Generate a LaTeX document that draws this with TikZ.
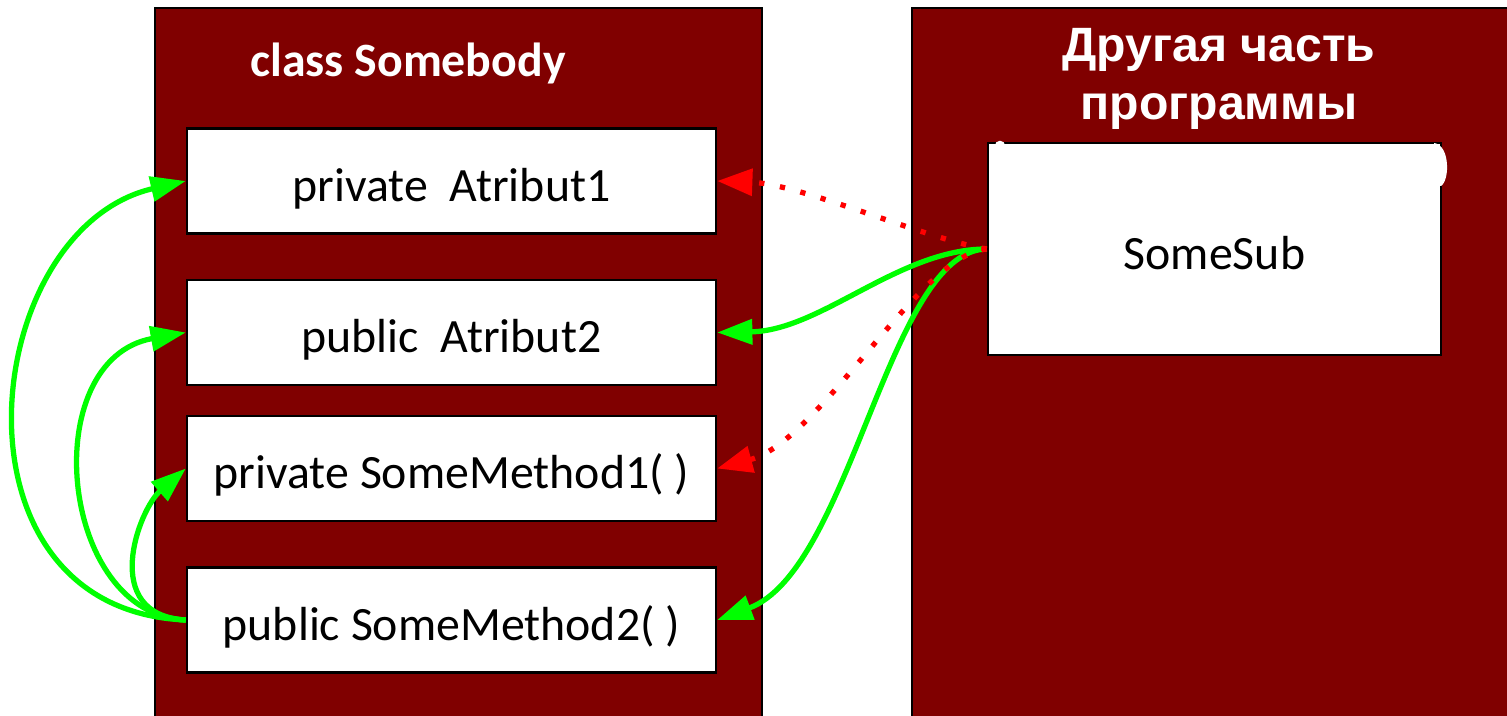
\documentclass[tikz,border=0pt]{standalone}
\usepackage{fontspec}
\setmainfont{Carlito}
\newfontfamily\arialfont{Liberation Sans}
\usetikzlibrary{arrows.meta}
\definecolor{darkred}{HTML}{800000}
\definecolor{brightgreen}{HTML}{00FF00}

\tikzset{
  panel/.style={draw=black, line width=0.5pt, fill=darkred},
  member/.style={draw=black, line width=0.6pt, fill=white, inner sep=0pt,
    minimum width=5.29cm, minimum height=1.05cm, text height=11.4pt, text depth=0pt,
    font=\fontsize{13.6}{16}\selectfont},
  callarrow/.style={brightgreen, line width=1.5pt, -{Triangle[length=10pt,width=7pt]}},
  hiddenarrow/.style={red, line width=1.5pt, dash pattern=on 1.5pt off 4.5pt,
    -{Triangle[length=10pt,width=7.5pt]}},
}

\begin{document}
\begin{tikzpicture}[x=0.01cm, y=-0.01cm]
\useasboundingbox (0,0) rectangle (1507,716);

% Two parts of the program
\draw[panel] (155,8) rectangle (762,725); % the class
\draw[panel] (912,8) rectangle (1520,725); % the rest of the program
\node[text=white, font=\bfseries\fontsize{13.6}{16}\selectfont] (classtitle) at (408,63) {class Somebody};
\node[text=white, font=\arialfont\bfseries\fontsize{13.7}{16.5}\selectfont, align=center] (parttitle) at (1219,79) {Другая часть\\программы};

% Members of the class
\node[member] (attr1) at (451.5,181) {private\ \ Atribut1};
\node[member] (attr2) at (451.5,332.5) {public\ \ Atribut2};
\node[member] (meth1) at (451.5,468.5) {private SomeMethod1( )};
\node[member] (meth2) at (451.5,620) {public SomeMethod2( )};

% Caller outside the class
\node[member, minimum width=4.53cm, minimum height=2.12cm] (somesub) at (1214.5,249) {SomeSub};
\fill[white] (1434,143) .. controls (1450,145) and (1450,180) .. (1441,186) -- (1434,186) -- cycle;
\fill[white] (1000,146) circle[radius=1.5pt];

% Access from inside the class
\draw[callarrow] (meth2.west) .. controls +(-247,-10) and +(-207,48) .. (attr1.west);
\draw[callarrow] (meth2.west) .. controls +(-127,-5) and +(-150,27) .. (attr2.west);
\draw[callarrow] (meth2.west) .. controls +(-87,-5) and +(-47,41) .. (meth1.west);

% Access from outside: public allowed
\draw[callarrow] (somesub.west) .. controls +(-88,0) and +(104,-2) .. (attr2.east);
\draw[callarrow] (somesub.west) .. controls +(-98,1) and +(134,-50) .. (meth2.east);

% Access from outside: private not allowed
\draw[hiddenarrow] (somesub.west) .. controls +(-58,-9) and +(84,3) .. (attr1.east);
\draw[hiddenarrow] (somesub.west) .. controls +(-68,6) and +(104,-28) .. (meth1.east);

\end{tikzpicture}
\end{document}
